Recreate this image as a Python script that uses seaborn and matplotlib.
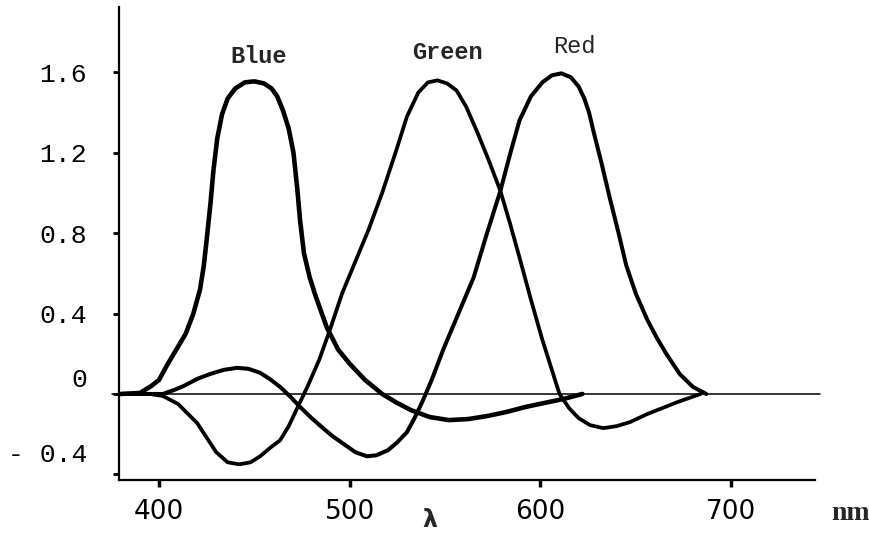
import matplotlib
matplotlib.use("Agg")
import matplotlib.pyplot as plt
import matplotlib.transforms as mtransforms
import pandas as pd
import seaborn as sns

# values (wavelength in nm, relative response)
blue_nm = [380, 390, 396, 400, 404, 409, 414, 418, 421.5, 423.5, 425, 427, 428.5, 430.5, 433, 436,
           440, 445, 450, 455, 459, 462, 465, 468, 470.5, 472.5, 474, 476, 479, 482, 485, 488,
           494, 500, 508, 517, 524, 532, 542, 552, 562, 572, 582, 592, 602, 612, 622]
blue_val = [0, 0.005, 0.04, 0.07, 0.14, 0.22, 0.3, 0.4, 0.52, 0.64, 0.77, 0.95, 1.11, 1.27, 1.39, 1.47,
            1.52, 1.55, 1.555, 1.545, 1.52, 1.48, 1.41, 1.32, 1.2, 1.02, 0.86, 0.7, 0.58, 0.49, 0.41, 0.33,
            0.22, 0.15, 0.07, 0.0, -0.04, -0.08, -0.115, -0.13, -0.125, -0.11, -0.09, -0.065, -0.045, -0.025, 0]

green_nm = [380, 395, 402, 410, 420, 430, 436, 442, 448, 453, 458, 463.5, 468, 474, 478, 484, 490,
            496, 503, 510, 517, 524, 530, 536, 541, 546, 551, 556, 561, 567, 573, 579, 584, 589,
            595, 601, 606, 610, 615, 620, 626, 633, 640, 647, 656, 664, 672, 678, 684]
green_val = [0, 0, -0.01, -0.05, -0.145, -0.29, -0.34, -0.35, -0.34, -0.31, -0.27, -0.23, -0.16, -0.04, 0.04, 0.17, 0.33,
             0.5, 0.66, 0.82, 1.0, 1.2, 1.38, 1.5, 1.55, 1.56, 1.545, 1.51, 1.43, 1.3, 1.16, 1.01, 0.85, 0.68,
             0.47, 0.27, 0.12, 0.0, -0.07, -0.12, -0.155, -0.17, -0.16, -0.14, -0.1, -0.07, -0.04, -0.02, 0]

red_nm = [380, 395, 402, 408, 413, 420, 427, 434, 441, 447, 453, 458, 463.5, 469, 474, 480, 486, 491,
          497, 503, 509, 514, 520, 525, 530, 534, 538, 543, 549, 557, 565, 572, 579, 584, 589, 595,
          601, 606, 611, 616, 620, 623, 625.5, 628, 632, 636.5, 641, 645, 650, 656, 661, 666, 673, 680, 687]
red_val = [0, 0, 0.0, 0.02, 0.04, 0.075, 0.1, 0.12, 0.13, 0.125, 0.105, 0.075, 0.035, -0.015, -0.065, -0.12, -0.17, -0.21,
           -0.25, -0.29, -0.31, -0.305, -0.28, -0.24, -0.19, -0.12, -0.04, 0.07, 0.22, 0.4, 0.58, 0.8, 1.01, 1.19, 1.36, 1.48,
           1.55, 1.585, 1.595, 1.575, 1.53, 1.47, 1.4, 1.3, 1.15, 0.97, 0.8, 0.64, 0.5, 0.37, 0.28, 0.2, 0.1, 0.035, 0]

curve_names = ["Blue", "Green", "Red"]
label_pos = {"Blue": (452, 1.68), "Green": (551, 1.70), "Red": (618, 1.73)}
y_ticks = [1.6, 1.2, 0.8, 0.4, 0, -0.4]
y_tick_labels = ["1.6", "1.2", "0.8", "0.4", "0", "- 0.4"]
x_ticks = [400, 500, 600, 700]

df = pd.concat([
    pd.DataFrame({"nm": blue_nm, "value": blue_val, "curve": "Blue"}),
    pd.DataFrame({"nm": green_nm, "value": green_val, "curve": "Green"}),
    pd.DataFrame({"nm": red_nm, "value": red_val, "curve": "Red"}),
])

sns.set_style("ticks")
plt.rcParams['font.family'] = ['Liberation Mono', 'DejaVu Sans']

fig = plt.figure(figsize=(8.7, 5.35), dpi=100)
ax = fig.add_axes([119 / 870, 55 / 535, 696 / 870, 473 / 535])

widths = {"Blue": 3.3, "Green": 2.7, "Red": 2.9}
for name in curve_names:
    sns.lineplot(data=df[df["curve"] == name], x="nm", y="value", color="black",
                 linewidth=widths[name], estimator=None, sort=False, ax=ax,
                 solid_joinstyle="round", solid_capstyle="round")

ax.axhline(0, xmin=-0.01, xmax=1.007, color="black", linewidth=1.1, clip_on=False, zorder=1)

ax.set_xlim(379, 744)
ax.set_ylim(-0.428, 1.925)
sns.despine(ax=ax)
for side in ["left", "bottom"]:
    ax.spines[side].set_linewidth(1.6)
    ax.spines[side].set_color("black")

ax.set_xticks(x_ticks)
ax.set_xticklabels([str(t) for t in x_ticks], fontfamily="DejaVu Sans", fontsize=19)
ax.set_yticks(y_ticks)
ax.set_yticklabels(y_tick_labels, fontsize=19)
ax.tick_params(axis="x", length=5, width=2.5, pad=9, colors="black")
ax.tick_params(axis="y", length=4, width=2, pad=19, colors="black")
ax.set_xlabel("")
ax.set_ylabel("")

# the hand-lettered "0" and "- 0.4" sit a little above their ticks
for lab, dy in zip(ax.get_yticklabels()[-2:], [16, 22]):
    lab.set_transform(lab.get_transform() + mtransforms.ScaledTranslation(0, dy / 100, fig.dpi_scale_trans))

for name in curve_names:
    x, y = label_pos[name]
    ax.text(x, y, name, ha="center", va="center", fontsize=17,
            fontweight="normal" if name == "Red" else "bold")

fig.text(430 / 870, 1 - 520 / 535, "λ", ha="center", va="center", fontsize=17,
         fontweight="bold", family="DejaVu Sans")
fig.text(851 / 870, 1 - 514 / 535, "nm", ha="center", va="center", fontsize=20,
         fontweight="bold", family="Liberation Serif")

fig.savefig("out.png", dpi=100)
